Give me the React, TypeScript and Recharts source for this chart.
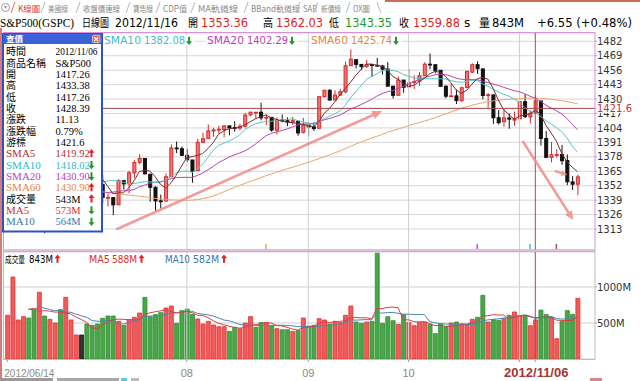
import React from 'react';
import { ComposedChart, Bar, Line, XAxis, YAxis, CartesianGrid, ReferenceLine, Cell } from 'recharts';

// ---------------- data ----------------
const YEAR = '2012';
const symbolName = 'S&P500';
const symbolCode = 'S&P500(GSPC)';

const dates = [
  '06/14','06/15','06/18','06/19','06/20','06/21','06/22','06/25','06/26','06/27','06/28','06/29',
  '07/02','07/03','07/04','07/05','07/06','07/09','07/10','07/11','07/12','07/13','07/16','07/17','07/18','07/19','07/20','07/23','07/24','07/25','07/26','07/27','07/30','07/31',
  '08/01','08/02','08/03','08/06','08/07','08/08','08/09','08/10','08/13','08/14','08/15','08/16','08/17','08/20','08/21','08/22','08/23','08/24','08/27','08/28','08/29','08/30','08/31',
  '09/04','09/05','09/06','09/07','09/10','09/11','09/12','09/13','09/14','09/17','09/18','09/19','09/20','09/21','09/24','09/25','09/26','09/27','09/28',
  '10/01','10/02','10/03','10/04','10/05','10/08','10/09','10/10','10/11','10/12','10/15','10/16','10/17','10/18','10/19','10/22','10/23','10/24','10/25','10/26','10/31',
  '11/01','11/02','11/05','11/06','11/07','11/08','11/09','11/12','11/13','11/14','11/15','11/16',
];

const opens = [
  1314.88,1329.19,1342.42,1344.83,1358.04,1355.43,1325.92,1334.90,1314.09,1320.71,1331.52,1330.12,
  1362.33,1365.75,1374.02,1373.72,1367.09,1354.66,1352.96,1341.40,1341.29,1334.81,1356.50,1353.68,1363.58,1373.01,1376.51,1362.34,1350.52,1338.35,1338.17,1360.05,1385.94,1385.27,
  1379.32,1375.13,1365.45,1391.04,1394.46,1401.23,1402.26,1402.58,1405.87,1404.36,1403.89,1405.57,1415.84,1417.85,1418.13,1413.09,1413.49,1401.99,1411.13,1410.44,1409.32,1410.08,1400.07,
  1406.54,1404.94,1403.74,1432.12,1437.92,1429.13,1433.56,1436.56,1460.07,1465.42,1461.19,1459.50,1461.05,1460.34,1459.76,1456.94,1441.60,1433.36,1447.13,
  1440.90,1444.99,1446.05,1451.08,1461.40,1460.93,1455.90,1441.48,1432.82,1432.84,1428.75,1440.31,1454.22,1460.94,1457.15,1433.21,1433.74,1413.20,1409.74,1412.97,1410.99,
  1412.20,1427.59,1414.02,1417.26,1428.27,1394.53,1377.55,1379.86,1380.03,1374.64,1355.41,1353.36,
];

const highs = [
  1333.68,1343.32,1348.22,1363.46,1361.57,1358.27,1337.82,1334.90,1324.24,1334.40,1331.52,1362.17,
  1366.35,1374.81,1374.02,1373.85,1367.09,1354.87,1361.54,1345.00,1341.29,1357.70,1357.26,1365.36,1375.26,1380.39,1376.51,1362.34,1351.53,1343.98,1363.13,1389.19,1391.74,1387.16,
  1385.03,1375.13,1394.16,1399.63,1407.14,1404.14,1405.95,1405.98,1405.87,1410.03,1407.73,1417.44,1418.71,1418.13,1426.68,1416.12,1413.49,1413.46,1416.17,1413.63,1413.95,1410.08,1413.09,
  1409.31,1408.81,1432.12,1437.92,1438.74,1437.76,1439.15,1463.76,1474.51,1465.63,1461.47,1465.15,1461.23,1467.07,1460.72,1463.24,1441.60,1450.20,1447.13,
  1457.14,1451.52,1454.30,1463.14,1470.96,1460.93,1455.90,1442.52,1443.90,1438.43,1441.31,1455.51,1462.20,1464.02,1457.15,1435.46,1433.74,1420.04,1421.12,1417.09,1418.76,
  1428.35,1434.27,1419.90,1433.38,1428.27,1401.23,1391.39,1384.87,1388.81,1380.13,1360.62,1362.03,
];

const lows = [
  1314.14,1329.19,1334.46,1344.83,1346.45,1324.41,1325.92,1309.27,1310.30,1320.71,1313.29,1330.12,
  1355.70,1363.53,1374.02,1363.02,1348.03,1346.65,1336.27,1333.25,1325.41,1334.81,1348.51,1345.07,1358.96,1371.21,1362.19,1337.56,1329.24,1331.50,1338.17,1360.05,1381.37,1379.17,
  1373.35,1354.65,1365.45,1391.04,1394.46,1396.13,1398.80,1395.62,1397.32,1400.60,1401.83,1404.15,1414.67,1412.12,1410.86,1406.78,1400.50,1398.04,1409.11,1405.59,1406.57,1397.01,1398.96,
  1396.56,1401.25,1403.74,1431.45,1428.98,1429.13,1432.99,1435.34,1460.07,1457.55,1456.13,1457.88,1449.98,1459.51,1452.06,1441.59,1430.53,1433.36,1435.60,
  1440.90,1439.01,1441.99,1451.08,1456.89,1453.10,1441.18,1430.64,1432.82,1425.53,1427.24,1440.31,1453.35,1452.63,1429.85,1422.06,1407.56,1407.10,1405.14,1403.28,1405.95,
  1412.20,1412.91,1408.13,1417.26,1388.14,1377.51,1373.03,1377.19,1370.78,1352.50,1348.05,1343.35,
];

const closes = [
  1329.10,1342.84,1344.78,1357.98,1355.69,1325.51,1335.02,1313.72,1319.99,1331.85,1329.04,1362.16,
  1365.51,1374.02,1374.02,1367.58,1354.68,1352.46,1341.47,1341.45,1334.76,1356.78,1353.64,1363.67,1372.78,1376.51,1362.66,1350.52,1338.31,1337.89,1360.02,1385.97,1385.30,1379.32,
  1375.32,1365.00,1390.99,1394.23,1401.35,1402.22,1402.80,1405.87,1404.11,1403.93,1405.53,1415.51,1418.16,1418.13,1413.17,1413.49,1402.08,1411.13,1410.44,1409.30,1410.49,1399.48,1406.58,
  1404.94,1403.44,1432.12,1437.92,1429.08,1433.56,1436.56,1459.99,1465.77,1461.19,1459.32,1461.05,1460.26,1460.15,1456.89,1441.59,1433.32,1447.15,1440.67,
  1444.49,1445.75,1450.99,1461.40,1460.93,1455.88,1441.48,1432.56,1432.84,1428.59,1440.13,1454.92,1460.91,1457.34,1433.19,1433.82,1413.11,1408.75,1412.97,1411.94,1412.16,
  1427.59,1414.20,1417.26,1428.39,1394.53,1377.51,1379.85,1380.03,1374.53,1355.49,1353.33,1359.88,
];

// volume in millions
const volumes = [
  607,1139,542,588,569,681,926,597,551,500,685,856,
  542,333,333,486,468,486,565,597,597,523,468,546,579,639,856,588,616,644,708,736,495,671,
  694,620,556,486,523,472,449,449,384,440,421,500,588,440,505,505,458,421,407,407,384,394,569,
  458,468,560,542,486,523,505,607,736,514,495,514,523,1468,495,588,532,481,616,
  505,463,509,509,481,352,486,449,500,514,486,477,551,579,884,514,546,537,565,607,653,
  597,610,463,543,679,616,579,282,523,672,620,843,
];

// SMA60 (needs history before the window)
const sma60Values = [
  1369,1368,1367,1366,1365,1364,1362.5,1361,1359.5,1358,1356.5,1355,
  1354,1353,1352,1350.5,1349.5,1348,1346.8,1345.5,1345,1344.5,1344,1343.5,1343,1342.5,1342,1341.3,1340.6,1340,1339.5,1339.2,1339,1338.8,
  1338.8,1339,1339.5,1340.3,1341.4,1342.8,1344.5,1346.5,1348.5,1350.5,1352.3,1354,1355.8,1357.5,1359.2,1361,1362.6,1364.2,1365.8,1367.2,1368.6,1370,1371.5,
  1373,1374.6,1376.3,1378,1379.7,1381.5,1383.3,1385.3,1387.4,1389.4,1391.3,1393.1,1394.8,1396.5,1398.2,1400,1401.6,1403,1404.5,
  1406,1407.5,1408.8,1410.2,1411.6,1413.2,1414.9,1416.6,1418.3,1420,1421.7,1423.1,1424.4,1425.6,1426.7,1427.6,1428.3,1428.9,1429.4,1429.8,1430.1,
  1430.4,1430.6,1430.8,1430.9,1430.7,1430.3,1429.8,1429.2,1428.5,1427.7,1426.8,1425.74,
];

const priceTicks = [1313, 1326, 1339, 1352, 1365, 1378, 1391, 1404, 1417, 1430, 1443, 1456, 1469, 1482];
const volumeTicks = [500, 1000];
const cursorIndex = 100;
const cursorPrice = 1421.6;

// hand-drawn trend arrows, in (bar index, price) coordinates
const trendArrows = [
  { x1: 20.8, y1: 1313.0, x2: 71.0, y2: 1419.3, head: 10 },
  { x1: 97.7, y1: 1391.6, x2: 107.2, y2: 1321.0, head: 9 },
  { x1: 103.9, y1: 1365.0, x2: 106.1, y2: 1361.6, head: 6 },
];
const crossMarks = [
  { i: 49, color: '#e8a070' },
  { i: 89, color: '#c050c0' },
  { i: 99, color: '#40c0c8' },
  { i: 104, color: '#a05060' },
];

const tabs = ['K線圖', '美國線', '收盤價連線', '寶塔線', 'CDP值', 'MA軌道線', 'BBand軌道線', 'SAR', '新價線', 'OX圖'];

// ---------------- derived ----------------
const avg = (arr: number[], i: number, n: number) => {
  const s = Math.max(0, i - n + 1);
  let t = 0;
  for (let k = s; k <= i; k++) t += arr[k];
  return t / (i - s + 1);
};

const rows = dates.map((d, i) => ({
  i,
  date: d,
  open: opens[i],
  high: highs[i],
  low: lows[i],
  close: closes[i],
  vol: volumes[i],
  sma5: avg(closes, i, 5),
  sma10: avg(closes, i, 10),
  sma20: avg(closes, i, 20),
  sma60: sma60Values[i],
  vma5: i >= 4 ? avg(volumes, i, 5) : null,
  vma10: i >= 4 ? avg(volumes, i, 10) : null,
  dir: i === 0 ? Math.sign(closes[0] - opens[0]) : Math.sign(closes[i] - closes[i - 1]),
}));

const monthStarts = dates
  .map((d, i) => (i > 0 && d.slice(0, 2) !== dates[i - 1].slice(0, 2) ? i : -1))
  .filter((i) => i > 20);
const xTickIdx = [0, ...monthStarts, cursorIndex];

const XMIN = -0.625;
const XMAX = 111.31;

const SANS = "'DejaVu Sans', Verdana, sans-serif";
const ARIAL = "'Liberation Sans', Arial, sans-serif";
const SERIF = "'Liberation Serif', 'Times New Roman', serif";
const CJK = "'Noto Sans CJK TC', 'Noto Sans CJK SC', sans-serif";

const fmt2 = (v: number) => v.toFixed(2);
const RED = '#e02424';
const GREEN = '#1c9a2a';

// ---------------- shapes ----------------
function Candle(props: any) {
  const { x, y, width, height, payload } = props;
  if (payload == null || x == null || y == null) return null;
  const { open, close, high, low } = payload;
  const top = Math.min(y, y + height);
  const h = Math.abs(height || 0);
  const cx = x + width / 2;
  if (high === low || h < 0.01) {
    return <line x1={x} x2={x + width} y1={top} y2={top} stroke="#222" strokeWidth={1} />;
  }
  const k = h / (high - low);
  const yo = top + (high - open) * k;
  const yc = top + (high - close) * k;
  const up = close >= open;
  const bt = Math.min(yo, yc);
  const bh = Math.max(0.8, Math.abs(yo - yc));
  const stroke = up ? '#d22c2c' : '#111';
  const fill = up ? '#f47474' : '#111';
  return (
    <g>
      <line x1={cx} x2={cx} y1={top} y2={top + h} stroke={stroke} strokeWidth={1} />
      <rect x={x + 0.5} y={bt} width={width - 1} height={bh} fill={fill} stroke={stroke} strokeWidth={1} />
    </g>
  );
}

function ArrowShape(props: any) {
  const { x1, y1, x2, y2, head } = props;
  if ([x1, y1, x2, y2].some((v) => v == null || isNaN(v))) return null;
  const a = Math.atan2(y2 - y1, x2 - x1);
  const L = head || 10;
  const W = L * 0.45;
  const bx = x2 - L * Math.cos(a);
  const by = y2 - L * Math.sin(a);
  const px = -Math.sin(a) * W;
  const py = Math.cos(a) * W;
  return (
    <g opacity={0.85}>
      <line x1={x1} y1={y1} x2={bx} y2={by} stroke="#f08a8a" strokeWidth={2.5} strokeLinecap="round" />
      <polygon points={`${x2},${y2} ${bx + px},${by + py} ${bx - px},${by - py}`} fill="#f08a8a" />
    </g>
  );
}

const PriceTick = (p: any) => {
  const v = p.payload.value;
  if (v === cursorPrice) {
    return (
      <g>
        <rect x={p.x - 0.5} y={p.y - 5} width={36} height={9.5} fill="#fff" />
        <text x={p.x} y={p.y + 3.6} fontSize={10} fontFamily={SANS} fill="#c03040" textAnchor="start">
          {String(v)}
        </text>
      </g>
    );
  }
  return (
    <text x={p.x} y={p.y + 3.6} fontSize={10} fontFamily={SANS} fill="#333" textAnchor="start">
      {v}
    </text>
  );
};

const VolTick = (p: any) => (
  <text x={p.x} y={p.y + 3.6} fontSize={10} fontFamily={SANS} fill="#333" textAnchor="start">
    {`${p.payload.value}M`}
  </text>
);

const DateTick = (p: any) => {
  const v = p.payload.value;
  if (v === cursorIndex) {
    return (
      <text x={p.x + 1} y={p.y + 13} textAnchor="middle" fontSize={13} fontWeight="bold" fill="#a83434" fontFamily={ARIAL}>
        {`${YEAR}/${dates[v]}`}
      </text>
    );
  }
  if (v === 0) {
    return (
      <text x={p.x - 3} y={p.y + 12.5} textAnchor="start" fontSize={11} fill="#8a8a8a" fontFamily={ARIAL} textLength={50} lengthAdjust="spacingAndGlyphs">
        {`${YEAR}/${dates[0]}`}
      </text>
    );
  }
  if (dates[v] && dates[v].slice(0, 2) === dates[cursorIndex].slice(0, 2)) return <g />;
  return (
    <text x={p.x} y={p.y + 12.5} textAnchor="middle" fontSize={11} fill="#8a8a8a" fontFamily={ARIAL}>
      {dates[v].slice(0, 2)}
    </text>
  );
};

const T = ({ x, y, w, size = 11, color = '#000', font = SANS, weight, anchor, children }: any) => (
  <text
    x={x}
    y={y}
    fontSize={size}
    fill={color}
    fontFamily={font}
    fontWeight={weight}
    textAnchor={anchor}
    textLength={w}
    lengthAdjust={w ? 'spacingAndGlyphs' : undefined}
  >
    {children}
  </text>
);

const Arrow = ({ x, y, up }: any) =>
  up ? (
    <path
      d={`M${x} ${y - 4.5} L${x + 3} ${y - 0.8} L${x + 1} ${y - 0.8} L${x + 1} ${y + 3.8} L${x - 1} ${y + 3.8} L${x - 1} ${y - 0.8} L${x - 3} ${y - 0.8} Z`}
      fill={RED}
    />
  ) : (
    <path
      d={`M${x} ${y + 4.5} L${x + 3} ${y + 0.8} L${x + 1} ${y + 0.8} L${x + 1} ${y - 3.8} L${x - 1} ${y - 3.8} L${x - 1} ${y + 0.8} L${x - 3} ${y + 0.8} Z`}
      fill={GREEN}
    />
  );

// ---------------- app ----------------
export default function App() {
  const n = rows.length;
  const last = rows[n - 1];
  const prev = rows[n - 2];
  const chg = last.close - prev.close;
  const pct = (chg / prev.close) * 100;

  const c = rows[cursorIndex];
  const cp = rows[cursorIndex - 1];
  const boxRows: any[] = [
    { label: '時間', cjk: true, value: `${YEAR}/${c.date}`, w: 42 },
    { label: '商品名稱', cjk: true, value: symbolName },
    { label: '開', cjk: true, value: fmt2(c.open) },
    { label: '高', cjk: true, value: fmt2(c.high) },
    { label: '低', cjk: true, value: fmt2(c.low) },
    { label: '收', cjk: true, value: fmt2(c.close) },
    { label: '漲跌', cjk: true, value: fmt2(c.close - cp.close) },
    { label: '漲跌幅', cjk: true, value: `${(((c.close - cp.close) / cp.close) * 100).toFixed(2)}%` },
    { label: '游標', cjk: true, value: String(cursorPrice) },
    { label: 'SMA5', color: '#b03030', value: fmt2(c.sma5), up: c.sma5 >= cp.sma5 },
    { label: 'SMA10', color: '#33b9c6', value: fmt2(c.sma10), up: c.sma10 >= cp.sma10 },
    { label: 'SMA20', color: '#c03cbc', value: fmt2(c.sma20), up: c.sma20 >= cp.sma20 },
    { label: 'SMA60', color: '#e3864a', value: fmt2(c.sma60), up: c.sma60 >= cp.sma60 },
    { label: '成交量', cjk: true, value: `${c.vol}M`, up: c.vol >= cp.vol },
    { label: 'MA5', color: '#d23232', value: `${Math.round(c.vma5 as number)}M`, up: (c.vma5 as number) >= (cp.vma5 as number) },
    { label: 'MA10', color: '#3a78a8', value: `${Math.round(c.vma10 as number)}M`, up: (c.vma10 as number) >= (cp.vma10 as number) },
  ];

  const tabX = [18, 48, 83, 133, 163, 198, 251, 303, 321, 353];
  const tabW = [22, 20, 37, 20, 24, 40, 49, 14, 20, 17];

  return (
    <div style={{ position: 'absolute', left: 0, top: 0, width: 640, height: 381, background: '#fff', overflow: 'hidden' }}>
      {/* price panel */}
      <div style={{ position: 'absolute', left: 0, top: 0 }}>
        <ComposedChart width={640} height={260} data={rows} margin={{ top: 33, right: 0, bottom: 10, left: 4 }}>
          <CartesianGrid vertical={false} stroke="#d6d6d6" />
          <XAxis dataKey="i" type="number" domain={[XMIN, XMAX]} hide allowDataOverflow />
          <YAxis
            orientation="right"
            width={45}
            domain={[1294.1, 1489.47]}
            ticks={[...priceTicks, cursorPrice]}
            interval={0}
            allowDataOverflow
            axisLine={false}
            tickLine={{ stroke: '#aaa' }}
            tickSize={2}
            tickMargin={0}
            tick={PriceTick}
          />
          {monthStarts.map((m) => (
            <ReferenceLine key={`m${m}`} x={m} stroke="#cfcfcf" />
          ))}
          {crossMarks.map((cm) => (
            <ReferenceLine
              key={`c${cm.i}`}
              segment={[{ x: cm.i, y: 1295.0 }, { x: cm.i, y: 1299.6 }]}
              stroke={cm.color}
              strokeWidth={1.5}
            />
          ))}
          <Bar dataKey={(d: any) => [d.low, d.high]} shape={Candle} barSize={4} isAnimationActive={false} />
          <Line dataKey="sma60" stroke="#eaa46e" strokeWidth={1} dot={false} activeDot={false} isAnimationActive={false} />
          <Line dataKey="sma20" stroke="#b845b8" strokeWidth={1} dot={false} activeDot={false} isAnimationActive={false} />
          <Line dataKey="sma10" stroke="#52c8c8" strokeWidth={1} dot={false} activeDot={false} isAnimationActive={false} />
          <Line dataKey="sma5" stroke="#7a2e2e" strokeWidth={1} dot={false} activeDot={false} isAnimationActive={false} />
          <ReferenceLine y={cursorPrice} stroke="#a84a4a" />
          <ReferenceLine x={cursorIndex} stroke="#a84a4a" />
          {trendArrows.map((a, k) => (
            <ReferenceLine
              key={`a${k}`}
              segment={[{ x: a.x1, y: a.y1 }, { x: a.x2, y: a.y2 }]}
              ifOverflow="visible"
              shape={(p: any) => <ArrowShape {...p} head={a.head} />}
            />
          ))}
        </ComposedChart>
      </div>

      {/* volume panel */}
      <div style={{ position: 'absolute', left: 0, top: 245 }}>
        <ComposedChart width={640} height={136} data={rows} margin={{ top: 7, right: 0, bottom: 4, left: 4 }}>
          <CartesianGrid vertical={false} stroke="#d0d0d0" />
          <XAxis
            dataKey="i"
            type="number"
            domain={[XMIN, XMAX]}
            allowDataOverflow
            ticks={xTickIdx}
            interval={0}
            height={18}
            axisLine={false}
            tickLine={{ stroke: '#999' }}
            tickSize={3}
            tickMargin={2}
            tick={DateTick}
          />
          <YAxis
            orientation="right"
            width={45}
            domain={[0, 1486]}
            ticks={volumeTicks}
            interval={0}
            allowDataOverflow
            axisLine={false}
            tickLine={{ stroke: '#aaa' }}
            tickSize={2}
            tickMargin={0}
            tick={VolTick}
          />
          {monthStarts.map((m) => (
            <ReferenceLine key={`vm${m}`} x={m} stroke="#cfcfcf" />
          ))}
          <Bar dataKey="vol" barSize={4} isAnimationActive={false}>
            {rows.map((r) => (
              <Cell
                key={r.i}
                fill={r.dir > 0 ? '#f45a5a' : r.dir < 0 ? '#48a848' : '#333'}
                stroke={r.dir > 0 ? '#d83434' : r.dir < 0 ? '#2f8a2f' : '#111'}
                strokeWidth={0.8}
              />
            ))}
          </Bar>
          <Line dataKey="vma10" stroke="#4a86b8" strokeWidth={1} dot={false} activeDot={false} isAnimationActive={false} />
          <Line dataKey="vma5" stroke="#d84040" strokeWidth={1} dot={false} activeDot={false} isAnimationActive={false} />
          <ReferenceLine x={cursorIndex} stroke="#a84a4a" />
        </ComposedChart>
      </div>

      {/* overlay: frame, title, legends, info box */}
      <svg style={{ position: 'absolute', left: 0, top: 0, pointerEvents: 'none' }} width={640} height={381}>
        {/* window frame lines */}
        <line x1={1} y1={28} x2={1} y2={381} stroke="#d77a7a" strokeWidth={2} />
        <line x1={385} y1={1} x2={640} y2={1} stroke="#c8705a" strokeWidth={2} />

        {/* tabs */}
        <circle cx={5.5} cy={7.5} r={4} fill="#fff" stroke="#9a9a9a" strokeWidth={1} />
        <path d="M3.8 6.3 L7.2 6.3 L5.5 8.8 Z" fill="#888" />
        {tabs.map((t, k) => (
          <g key={t}>
            <line x1={tabX[k] - 7} y1={13} x2={tabX[k] - 3} y2={2} stroke={k === 0 ? '#e07040' : '#b8b8b8'} strokeWidth={1} />
            <T x={tabX[k]} y={12} w={tabW[k]} size={8.5} font={CJK} color={k === 0 ? '#d43a3a' : '#8a8a8a'}>
              {t}
            </T>
          </g>
        ))}
        <line x1={377} y1={2} x2={381} y2={13} stroke="#b8b8b8" strokeWidth={1} />

        {/* title row */}
        <T x={0} y={26.5} w={74} size={12.5} font={SERIF}>{symbolCode}</T>
        <T x={82} y={26.5} w={27} size={11} font={CJK}>日線圖</T>
        <T x={115} y={26.5} w={63} size={12}>{`${YEAR}/${last.date}`}</T>
        <T x={188} y={26.5} w={10} size={11} font={CJK}>開</T>
        <T x={201} y={26.5} w={47} size={12} color={RED}>{fmt2(last.open)}</T>
        <T x={263} y={26.5} w={10} size={11} font={CJK}>高</T>
        <T x={276} y={26.5} w={47} size={12} color={RED}>{fmt2(last.high)}</T>
        <T x={329} y={26.5} w={10} size={11} font={CJK}>低</T>
        <T x={345} y={26.5} w={47} size={12} color={GREEN}>{fmt2(last.low)}</T>
        <T x={399} y={26.5} w={10} size={11} font={CJK}>收</T>
        <T x={413} y={26.5} w={47} size={12} color={RED}>{fmt2(last.close)}</T>
        <T x={464} y={26.5} size={12}>s</T>
        <T x={479} y={26.5} w={11} size={11} font={CJK}>量</T>
        <T x={492} y={26.5} w={32} size={12}>{`${last.vol}M`}</T>
        <T x={537} y={26.5} w={95} size={12}>{`${chg >= 0 ? '+' : ''}${fmt2(chg)} (${pct >= 0 ? '+' : ''}${pct.toFixed(2)}%)`}</T>

        {/* panel frames */}
        <rect x={3.5} y={32.5} width={591.5} height={217.5} fill="none" stroke="#d890d8" strokeWidth={1} />
        <rect x={3.5} y={251.5} width={591.5} height={108} fill="none" stroke="#bdbdbd" strokeWidth={1} />

        {/* price legend */}
        <rect x={103} y={35} width={92} height={10} fill="#fff" />
        <T x={104} y={44} w={37} size={10.5} color="#3cc0c8">SMA10</T>
        <T x={144} y={44} w={41} size={10.5} color="#3cc0c8">{fmt2(last.sma10)}</T>
        <Arrow x={189} y={40.5} up={last.sma10 >= prev.sma10} />
        <rect x={206} y={35} width={92} height={10} fill="#fff" />
        <T x={207} y={44} w={37} size={10.5} color="#c03cbc">SMA20</T>
        <T x={247} y={44} w={41} size={10.5} color="#c03cbc">{fmt2(last.sma20)}</T>
        <Arrow x={292} y={40.5} up={last.sma20 >= prev.sma20} />
        <rect x={310} y={35} width={92} height={10} fill="#fff" />
        <T x={311} y={44} w={37} size={10.5} color="#e3864a">SMA60</T>
        <T x={351} y={44} w={41} size={10.5} color="#e3864a">{fmt2(last.sma60)}</T>
        <Arrow x={396} y={40.5} up={last.sma60 >= prev.sma60} />

        {/* volume legend */}
        <T x={5} y={263} w={20} size={9.5} font={CJK}>成交量</T>
        <T x={29} y={263} w={24} size={10}>{`${last.vol}M`}</T>
        <Arrow x={57.5} y={259} up={last.vol >= prev.vol} />
        <T x={89} y={263} w={21} size={10} color="#d83030">MA5</T>
        <T x={112} y={263} w={25} size={10} color="#d83030">{`${Math.round(last.vma5 as number)}M`}</T>
        <Arrow x={141.5} y={259} up={(last.vma5 as number) >= (prev.vma5 as number)} />
        <T x={165} y={263} w={25} size={10} color="#3a78a8">MA10</T>
        <T x={193} y={263} w={26} size={10} color="#3a78a8">{`${Math.round(last.vma10 as number)}M`}</T>
        <Arrow x={224} y={259} up={(last.vma10 as number) >= (prev.vma10 as number)} />

        {/* info box */}
        <rect x={3} y={34} width={99} height={197.5} fill="#fff" stroke="#2c50c8" strokeWidth={2} />
        <rect x={3} y={34} width={99} height={10} fill="#3a62d8" />
        <T x={6} y={42.2} size={8.5} weight="bold" font={CJK} color="#fff">查價</T>
        <rect x={92.5} y={35.3} width={7.5} height={7.2} fill="#e8603c" stroke="#fff" strokeWidth={0.6} rx={1} />
        <path d="M94.3 37.2 L98.2 41 M98.2 37.2 L94.3 41" stroke="#fff" strokeWidth={1.2} />
        {boxRows.map((r, k) => {
          const cy = 51.5 + k * 11.33;
          return (
            <g key={r.label}>
              <T x={6} y={cy + 3.8} size={r.cjk ? 10 : 11} font={r.cjk ? CJK : SERIF} color={r.color || '#000'}>
                {r.label}
              </T>
              <T x={55.5} y={cy + 3.8} w={r.w} size={10.5} font={SERIF} color={r.color || '#000'}>
                {r.value}
              </T>
              {r.up !== undefined && <Arrow x={91.5} y={cy} up={r.up} />}
            </g>
          );
        })}

        {/* bottom scroll bar */}
        <rect x={0} y={378} width={53} height={3} fill="#9a9a9a" />
        <rect x={57} y={378} width={62} height={3} fill="#a8a8a8" />
        <rect x={121} y={378} width={6} height={3} fill="#4cd0e0" />
        <rect x={131} y={378} width={8} height={3} fill="#bbbbbb" />
        <rect x={590} y={378} width={12} height={3} fill="#e08080" />
      </svg>
    </div>
  );
}
